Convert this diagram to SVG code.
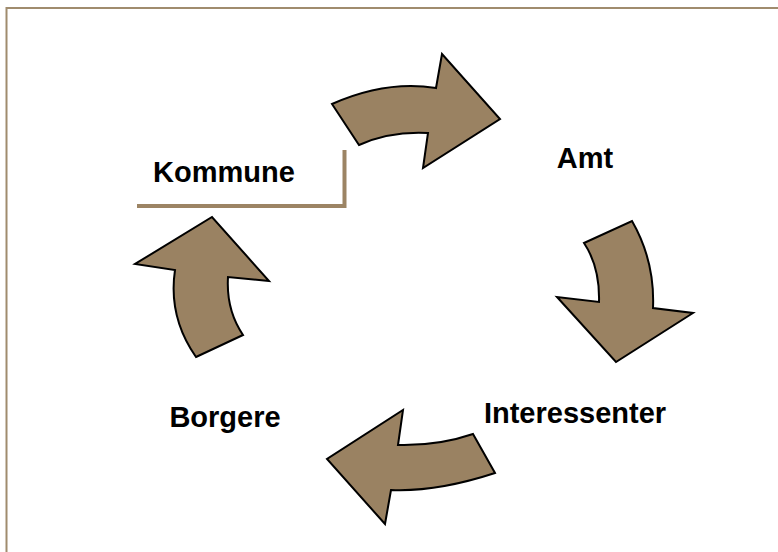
<svg xmlns="http://www.w3.org/2000/svg" width="778" height="552" viewBox="0 0 778 552">
  <style>
    .lbl { font-family: "Liberation Sans", Arial, sans-serif; font-weight: bold; font-size: 29px; fill: #000; text-anchor: middle; }
    .arrow { fill: #9a8262; stroke: #000; stroke-width: 2; stroke-linejoin: miter; }
  </style>
  <rect x="0" y="0" width="778" height="552" fill="#fff"/>
  <rect x="6.5" y="8" width="790" height="560" fill="none" stroke="#a08c6e" stroke-width="2"/>
  <g id="Kommune">
    <path d="M137,206 H344.5 V150" fill="none" stroke="#9c8464" stroke-width="4"/>
    <text class="lbl" x="224" y="182">Kommune</text>
  </g>
  <g id="Amt">
    <text class="lbl" x="585" y="168">Amt</text>
  </g>
  <g id="Interessenter">
    <text class="lbl" x="575" y="423">Interessenter</text>
  </g>
  <g id="Borgere">
    <text class="lbl" x="225" y="427">Borgere</text>
  </g>
  <g id="connectors">
    <path class="arrow" d="M332,104 Q386,80 436,88 L442,54 L500,119 L423,168 L428,133 Q390,131 359,145 Z"/>
    <path class="arrow" d="M584,243 L632,221 Q655,261 653,308 L693,313 L616,362 L557,297 L599,302 Q600,267 584,243 Z"/>
    <path class="arrow" d="M473,434 L495,473 Q437,492 391,490 L385,524 L327,459 L403,410 L398,445 Q438,446 473,434 Z"/>
    <path class="arrow" d="M196,357 L243,335 Q226,310 228,277 L269,281 L212,217 L135,264 L175,270 Q168,317 196,357 Z"/>
  </g>
</svg>
